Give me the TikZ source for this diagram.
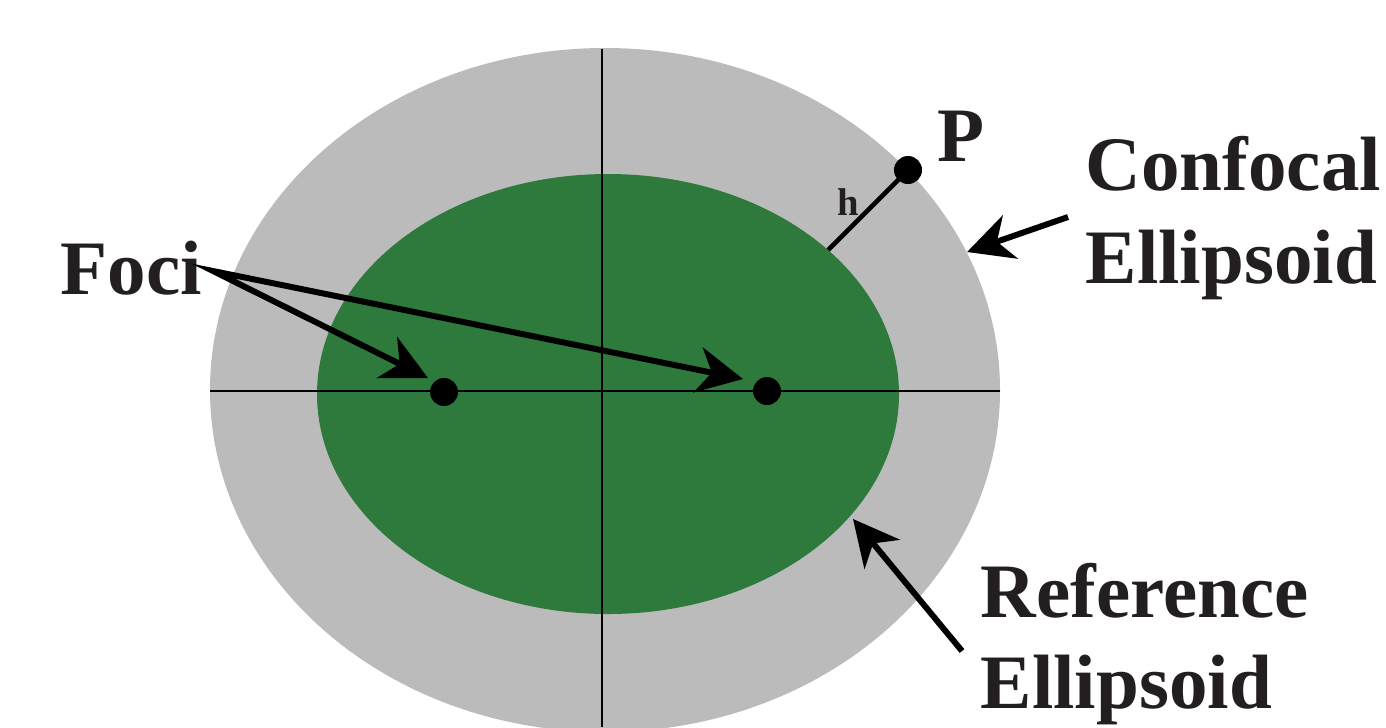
\documentclass[tikz,border=0pt]{standalone}
\usepackage{fontspec}
\setmainfont{Liberation Serif}
\usetikzlibrary{arrows.meta}
\definecolor{shellgray}{HTML}{BBBBBB}
\definecolor{refgreen}{HTML}{2D7A3C}
\definecolor{inkblack}{HTML}{231F20}

\begin{document}
\begin{tikzpicture}[x=0.01cm,y=-0.01cm,
  lbl/.style={font=\fontsize{21.9}{26.2}\selectfont\bfseries,text=inkblack,inner sep=0pt,align=left},
  pt/.style={circle,fill=black,minimum size=0.28cm,inner sep=0pt},
  ptr/.style={line width=1.7pt,-{Stealth[length=13pt,width=13pt,inset=4pt]}}]
\clip (0,0) rectangle (1386,727);
\useasboundingbox (0,0) rectangle (1386,727);
% confocal and reference ellipses
\fill[shellgray] (605,390) ellipse [x radius=395, y radius=342];
\fill[refgreen] (608,394) ellipse [x radius=291, y radius=220];
% axes
\draw[line width=0.7pt] (210,391) -- (1000,391);
\draw[line width=0.7pt] (602,49) -- (602,727);
% foci and point P
\node[pt] (f1) at (444,392) {};
\node[pt] (f2) at (767,391) {};
\node[pt] (p) at (908,170) {};
\coordinate (foot) at (828,250);
\draw[line width=1.3pt] (p.center) -- (foot);
\node[font=\fontsize{11}{13}\selectfont\bfseries,text=inkblack,inner sep=0pt,anchor=base] (hl) at (848,215) {h};
% labels
\node[lbl,anchor=base west] (plbl) at (937,161) {P};
\node[lbl,anchor=base west] (foci) at (60,294) {Foci};
\node[lbl,anchor=base west] (conf) at (1085,283) {Confocal\\Ellipsoid};
\node[lbl,anchor=base west,font=\fontsize{21.9}{25.8}\selectfont\bfseries] (refl) at (980,708) {Reference\\Ellipsoid};
% pointers
\coordinate (apex) at (213,271);
\coordinate (tip1) at (428,378);
\coordinate (tip2) at (743,379);
\draw[ptr,{Stealth[length=13pt,width=13pt,inset=4pt]}-{Stealth[length=13pt,width=13pt,inset=4pt]},line join=miter] (tip1) -- (apex) -- (tip2);
\coordinate (conftail) at (1068,217);
\coordinate (conftip) at (967,252);
\draw[ptr] (conftail) -- (conftip);
\coordinate (reftail) at (962,651);
\coordinate (reftip) at (853,519);
\draw[ptr] (reftail) -- (reftip);
\end{tikzpicture}
\end{document}
